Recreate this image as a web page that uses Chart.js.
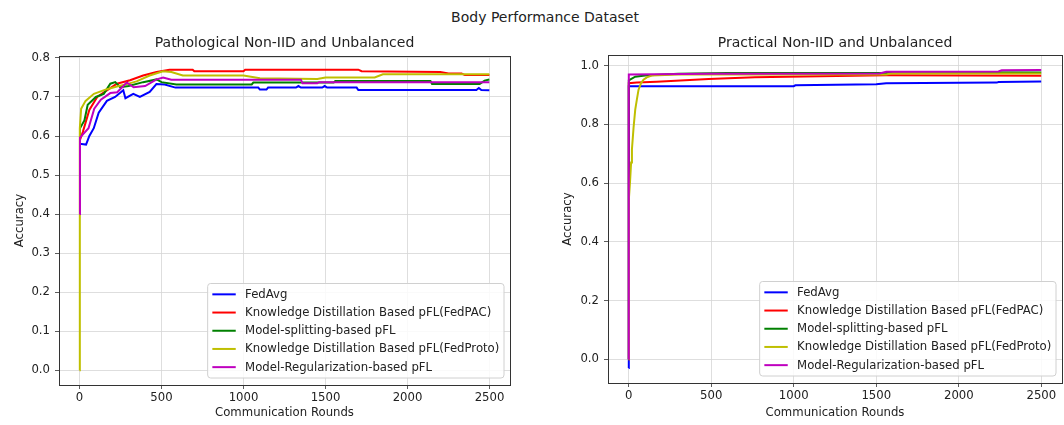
<!DOCTYPE html>
<html>
<head>
<meta charset="utf-8">
<script src="https://cdn.jsdelivr.net/npm/chart.js@4/dist/chart.umd.min.js"></script>
<style>
  body { margin: 0; background: #fff; width: 1064px; height: 425px; position: relative; overflow: hidden; font-family: "DejaVu Sans", sans-serif; }
  #suptitle { position: absolute; left: 345px; width: 400px; top: 9px; text-align: center; font-size: 14px; color: #222; }
  .panel { position: absolute; top: 0; }
</style>
</head>
<body>
<div id="suptitle">Body Performance Dataset</div>
<div class="panel" style="left:0"><canvas id="chart-path" width="532" height="425"></canvas></div>
<div class="panel" style="left:540px"><canvas id="chart-prac" width="524" height="425"></canvas></div>
<script>
/* ========== DATA ========== */
const seriesLabels = ['FedAvg', 'Knowledge Distillation Based pFL(FedPAC)', 'Model-splitting-based pFL',
  'Knowledge Distillation Based pFL(FedProto)', 'Model-Regularization-based pFL'];
const seriesColors = ['#0000ff', '#ff0000', '#008000', '#bfbf00', '#bf00bf'];
const xTickVals = [0, 500, 1000, 1500, 2000, 2500];
const pathYTicks = [0, 0.1, 0.2, 0.3, 0.4, 0.5, 0.6, 0.7, 0.8];
const pracYTicks = [0, 0.2, 0.4, 0.6, 0.8, 1.0];

// Pathological Non-IID and Unbalanced
const pathAvgR   = [0, 3, 40, 60, 87, 117, 167, 217, 267, 280, 328, 368, 428, 469, 520, 585, 1090, 1100, 1140, 1150, 1320, 1335, 1350, 1480, 1495, 1510, 1690, 1700, 2420, 2435, 2450, 2499];
const pathAvgAcc = [0.40, 0.580, 0.578, 0.600, 0.620, 0.660, 0.690, 0.700, 0.717, 0.697, 0.708, 0.700, 0.713, 0.733, 0.732, 0.724, 0.724, 0.719, 0.719, 0.724, 0.724, 0.728, 0.724, 0.724, 0.728, 0.724, 0.724, 0.718, 0.718, 0.723, 0.718, 0.717];
const pathPacR   = [0, 3, 20, 60, 108, 167, 228, 308, 388, 470, 549, 690, 700, 1000, 1010, 1700, 1720, 2200, 2250, 2330, 2350, 2499];
const pathPacAcc = [0.40, 0.590, 0.610, 0.667, 0.700, 0.717, 0.734, 0.743, 0.755, 0.764, 0.770, 0.770, 0.766, 0.766, 0.770, 0.770, 0.766, 0.764, 0.760, 0.760, 0.756, 0.756];
const pathSplitR   = [0, 3, 30, 50, 100, 148, 188, 218, 248, 300, 388, 470, 500, 590, 1050, 1060, 1550, 1560, 2140, 2150, 2440, 2470, 2499];
const pathSplitAcc = [0.40, 0.620, 0.640, 0.680, 0.700, 0.708, 0.734, 0.738, 0.725, 0.728, 0.738, 0.745, 0.738, 0.732, 0.732, 0.737, 0.737, 0.741, 0.741, 0.733, 0.733, 0.742, 0.745];
const pathProtoR   = [0, 2, 10, 37, 88, 167, 228, 288, 348, 428, 509, 560, 630, 1000, 1100, 1450, 1500, 1800, 1850, 2499];
const pathProtoAcc = [0.00, 0.620, 0.670, 0.690, 0.708, 0.720, 0.727, 0.733, 0.740, 0.755, 0.766, 0.764, 0.755, 0.755, 0.748, 0.746, 0.750, 0.750, 0.758, 0.758];
const pathRegR   = [0, 3, 55, 90, 130, 188, 230, 288, 330, 400, 470, 510, 560, 1350, 1360, 1450, 1460, 2499];
const pathRegAcc = [0.40, 0.596, 0.620, 0.670, 0.693, 0.710, 0.712, 0.737, 0.725, 0.728, 0.745, 0.750, 0.744, 0.744, 0.735, 0.735, 0.738, 0.738];

// Practical Non-IID and Unbalanced
const pracAvgR   = [0, 1, 1000, 1010, 1500, 1560, 2230, 2240, 2499];
const pracAvgAcc = [-0.03, 0.930, 0.930, 0.933, 0.936, 0.940, 0.942, 0.944, 0.946];
const pracPacR   = [0, 1, 50, 170, 485, 765, 1160, 1560, 2499];
const pracPacAcc = [0.00, 0.940, 0.942, 0.945, 0.954, 0.960, 0.964, 0.967, 0.965];
const pracSplitR   = [0, 1, 40, 100, 300, 600, 1560, 1600, 2499];
const pracSplitAcc = [0.00, 0.950, 0.962, 0.966, 0.972, 0.975, 0.975, 0.978, 0.976];
const pracProtoR   = [0, 2, 8, 15, 20, 30, 40, 50, 60, 75, 90, 110, 140, 300, 1560, 1600, 2499];
const pracProtoAcc = [0.00, 0.550, 0.600, 0.670, 0.715, 0.790, 0.850, 0.885, 0.918, 0.940, 0.952, 0.960, 0.966, 0.970, 0.970, 0.974, 0.973];
const pracRegR   = [0, 1, 500, 1520, 1560, 2240, 2260, 2499];
const pracRegAcc = [0.00, 0.970, 0.972, 0.973, 0.979, 0.980, 0.984, 0.985];

/* ========== HELPERS ========== */
const FONT = 'DejaVu Sans';
const pts = (rs, ys) => rs.map((r, i) => ({ x: r, y: ys[i] }));

// axes frame like matplotlib spines
const framePlugin = {
  id: 'frame',
  afterDatasetsDraw(chart) {
    const { ctx, chartArea: a } = chart;
    ctx.save();
    ctx.strokeStyle = '#333';
    ctx.lineWidth = 1;
    ctx.strokeRect(Math.round(a.left) + 0.5, Math.round(a.top) + 0.5, Math.round(a.right - a.left), Math.round(a.bottom - a.top));
    ctx.restore();
  }
};

// matplotlib-style legend in lower right of the axes
const boxLegend = {
  id: 'boxLegend',
  afterDraw(chart) {
    const { ctx, chartArea: a } = chart;
    const fs = 11.7, pad = 0.4 * fs, hl = 2 * fs, htp = 0.8 * fs, rowH = 12.35, gap = 0.5 * fs;
    ctx.save();
    ctx.font = `${fs}px "${FONT}"`;
    const sets = chart.data.datasets;
    const tw = Math.max(...sets.map(d => ctx.measureText(d.label).width));
    const w = pad * 2 + hl + htp + tw, h = pad * 2 + sets.length * rowH + (sets.length - 1) * gap;
    const x = a.right - 6 - w, y = a.bottom - 7 - h;
    ctx.beginPath();
    ctx.roundRect(x, y, w, h, 3);
    ctx.fillStyle = 'rgba(255,255,255,0.85)';
    ctx.fill();
    ctx.strokeStyle = '#d0d0d0';
    ctx.lineWidth = 1;
    ctx.stroke();
    sets.forEach((d, i) => {
      const cy = y + pad + i * (rowH + gap) + rowH / 2;
      ctx.strokeStyle = d.borderColor;
      ctx.lineWidth = 2;
      ctx.beginPath();
      ctx.moveTo(x + pad, cy);
      ctx.lineTo(x + pad + hl, cy);
      ctx.stroke();
      ctx.fillStyle = '#222';
      ctx.textBaseline = 'middle';
      ctx.fillText(d.label, x + pad + hl + htp, cy + 0.5);
    });
    ctx.restore();
  }
};

function makeDatasets(list) {
  return list.map(([rs, ys], i) => ({
    label: seriesLabels[i], data: pts(rs, ys),
    borderColor: seriesColors[i], backgroundColor: seriesColors[i],
    borderWidth: 2, pointRadius: 0, tension: 0, fill: false,
    order: list.length - i
  }));
}

function makePanel(id, title, datasets, yTicks, yMin, yMax, cfg) {
  new Chart(document.getElementById(id), {
    type: 'line',
    data: { datasets },
    options: {
      responsive: false, animation: false, events: [],
      layout: { padding: { left: 0, right: cfg.padRight, top: 0, bottom: 0 } },
      plugins: {
        legend: { display: false }, tooltip: { enabled: false },
        title: { display: true, text: title, fullSize: false, color: '#222',
          font: { family: FONT, size: 14, weight: 'normal' }, padding: { top: 34.6, bottom: cfg.titleBottom } }
      },
      scales: {
        x: {
          type: 'linear', min: -125, max: 2625,
          afterBuildTicks: s => { s.ticks = xTickVals.map(v => ({ value: v })); },
          afterFit: s => { s.height = cfg.xHeight; },
          grid: { color: '#d6d6d6', lineWidth: 0.8, tickColor: '#333', tickLength: 4 },
          border: { display: false },
          ticks: { color: '#222', padding: 2, maxRotation: 0, callback: v => String(v), font: { family: FONT, size: 11.7 } },
          title: { display: true, text: 'Communication Rounds', color: '#222', padding: { top: 0, bottom: 5 }, font: { family: FONT, size: 11.7 } }
        },
        y: {
          type: 'linear', min: yMin, max: yMax,
          afterBuildTicks: s => { s.ticks = yTicks.map(v => ({ value: v })); },
          afterFit: s => { s.width = cfg.yWidth; },
          grid: { color: '#d6d6d6', lineWidth: 0.8, tickColor: '#333', tickLength: 4 },
          border: { display: false },
          ticks: { color: '#222', padding: 5, callback: v => v.toFixed(1), font: { family: FONT, size: 11.7 } },
          title: { display: true, text: 'Accuracy', color: '#222', padding: { top: cfg.yTitlePad, bottom: 0 }, font: { family: FONT, size: 11.7 } }
        }
      }
    },
    plugins: [framePlugin, boxLegend]
  });
}

/* ========== CHARTS ========== */
makePanel('chart-path', 'Pathological Non-IID and Unbalanced',
  makeDatasets([[pathAvgR, pathAvgAcc], [pathPacR, pathPacAcc], [pathSplitR, pathSplitAcc], [pathProtoR, pathProtoAcc], [pathRegR, pathRegAcc]]),
  pathYTicks, -0.038, 0.805,
  { padRight: 22, yWidth: 59, xHeight: 40, titleBottom: 4.6, yTitlePad: 13 });

makePanel('chart-prac', 'Practical Non-IID and Unbalanced',
  makeDatasets([[pracAvgR, pracAvgAcc], [pracPacR, pracPacAcc], [pracSplitR, pracSplitAcc], [pracProtoR, pracProtoAcc], [pracRegR, pracRegAcc]]),
  pracYTicks, -0.081, 1.036,
  { padRight: 2, yWidth: 68, xHeight: 42, titleBottom: 3.6, yTitlePad: 21 });
</script>
</body>
</html>
